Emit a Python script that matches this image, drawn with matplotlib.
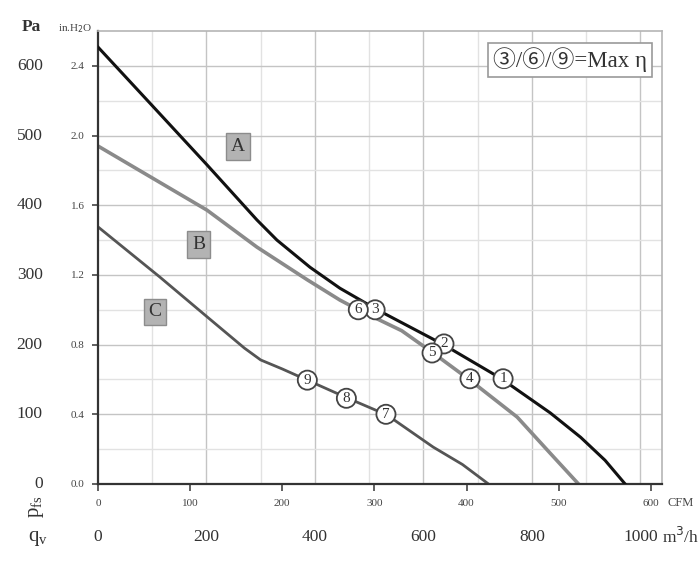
import matplotlib
matplotlib.use("Agg")
import matplotlib.pyplot as plt
from matplotlib.transforms import blended_transform_factory

plt.rcParams['font.family'] = ['Liberation Serif', 'DejaVu Sans']

# flow in m3/h, static pressure in Pa
qA = [0, 100, 201, 293, 330, 391, 446, 515, 637, 742, 834, 890, 935, 972]
pA = [627, 543, 458, 379, 350, 311, 281, 250, 200, 152, 102, 67, 34, 0]
qB = [0, 201, 293, 386, 446, 480, 560, 618, 686, 773, 834, 886]
pB = [485, 393, 340, 293, 264, 250, 220, 188, 149, 96, 44, 0]
qC = [0, 114, 201, 270, 300, 340, 386, 461, 533, 618, 672, 720]
pC = [369, 297, 240, 195, 178, 165, 149, 123, 99, 53, 28, 0]

# operating points (number, q, p)
pt_num = ['1', '2', '3', '4', '5', '6', '7', '8', '9']
pt_q = [747, 638, 511, 686, 616, 480, 531, 458, 386]
pt_p = [151, 201, 250, 151, 188, 250, 100, 123, 149]

curve_names = ['A', 'B', 'C']
name_q = [258, 186, 105]
name_p = [484, 344, 247]

pa_ticks = [0, 100, 200, 300, 400, 500, 600]
inh2o_labels = ['0.0', '0.4', '0.8', '1.2', '1.6', '2.0', '2.4']
cfm_ticks = [0, 100, 200, 300, 400, 500, 600]
m3h_ticks = [0, 200, 400, 600, 800, 1000]
CFM2M3H = 1.699

fig = plt.figure(figsize=(7, 5.65), dpi=100)
ax = fig.add_axes([0.14, 0.1434, 0.8057, 0.8016])
ax.set_xlim(0, 1040)
ax.set_ylim(0, 650)

# grid
for q in range(100, 1100, 100):
    c = '#c4c4c4' if q % 200 == 0 else '#e2e2e2'
    ax.axvline(q, color=c, lw=1.0, zorder=0)
for p in range(50, 650, 50):
    c = '#c4c4c4' if p % 100 == 0 else '#e2e2e2'
    ax.axhline(p, color=c, lw=1.0, zorder=0)

ax.plot(qA, pA, color='#111111', lw=2.2, zorder=3)
ax.plot(qB, pB, color='#8a8a8a', lw=2.6, zorder=2)
ax.plot(qC, pC, color='#555555', lw=2.0, zorder=2)

for n, q, p in zip(pt_num, pt_q, pt_p):
    ax.text(q, p, n, fontsize=11, ha='center', va='center', color='#333333',
            zorder=5, bbox=dict(boxstyle='circle,pad=0.2', fc='white',
                                ec='#444444', lw=1.3))

for n, q, p in zip(curve_names, name_q, name_p):
    ax.text(q, p, n, fontsize=14, ha='center', va='center', color='#333333',
            zorder=5, bbox=dict(boxstyle='square,pad=0.25', fc='#b3b3b3',
                                ec='#8c8c8c', lw=1.0))

ax.text(0.837, 0.937, '③/⑥/⑨=Max η', transform=ax.transAxes, fontsize=16.5,
        ha='center', va='center', color='#333333',
        family=['Liberation Serif', 'Noto Sans CJK SC'],
        bbox=dict(boxstyle='square,pad=0.2', fc='white', ec='#999999', lw=1.2))

# spines
for s in ['top', 'right']:
    ax.spines[s].set_color('#b5b5b5')
    ax.spines[s].set_linewidth(1.2)
for s in ['left', 'bottom']:
    ax.spines[s].set_color('#333333')
    ax.spines[s].set_linewidth(1.6)

# y ticks: in.H2O labels next to the spine, Pa labels further out
ax.set_yticks(pa_ticks)
ax.set_yticklabels(inh2o_labels)
ax.tick_params(axis='y', length=4.5, width=1.2, pad=5, labelsize=8,
               colors='#444444')
ytr = blended_transform_factory(ax.transAxes, ax.transData)
for p in pa_ticks:
    ax.text(-0.098, p, str(p), transform=ytr, fontsize=12.5, ha='right',
            va='center', color='#333333')

# x ticks in CFM
ax.set_xticks([c * CFM2M3H for c in cfm_ticks])
ax.set_xticklabels([str(c) for c in cfm_ticks])
ax.tick_params(axis='x', length=5, width=1.2, pad=6, labelsize=8,
               colors='#444444')

# second x row in m3/h
sec = ax.secondary_xaxis(-0.1)
sec.set_xticks(m3h_ticks)
sec.set_xticklabels([str(m) for m in m3h_ticks])
sec.tick_params(axis='x', length=0, pad=0, labelsize=12.5, colors='#333333')
sec.spines['bottom'].set_visible(False)

fig.text(31 / 700, 1 - 27 / 565, 'Pa', fontsize=12.5, fontweight='bold',
         ha='center', va='center', color='#333333')
fig.text(75 / 700, 1 - 29 / 565, 'in.H$_2$O', fontsize=8, ha='center',
         va='center', color='#444444')
fig.text(668 / 700, 1 - 503 / 565, 'CFM', fontsize=9, ha='left',
         va='center', color='#444444')
fig.text(662 / 700, 1 - 537 / 565, 'm$^3$/h', fontsize=12.5, ha='left',
         va='center', color='#333333')
fig.text(38 / 700, 1 - 538 / 565, 'q$_\\mathregular{v}$', fontsize=15,
         ha='center', va='center', color='#333333')
fig.text(37 / 700, 1 - 507 / 565, 'p$_\\mathregular{fs}$', fontsize=15,
         rotation=90, ha='center', va='center', color='#333333')

fig.savefig('out.png', dpi=100, facecolor='white')
